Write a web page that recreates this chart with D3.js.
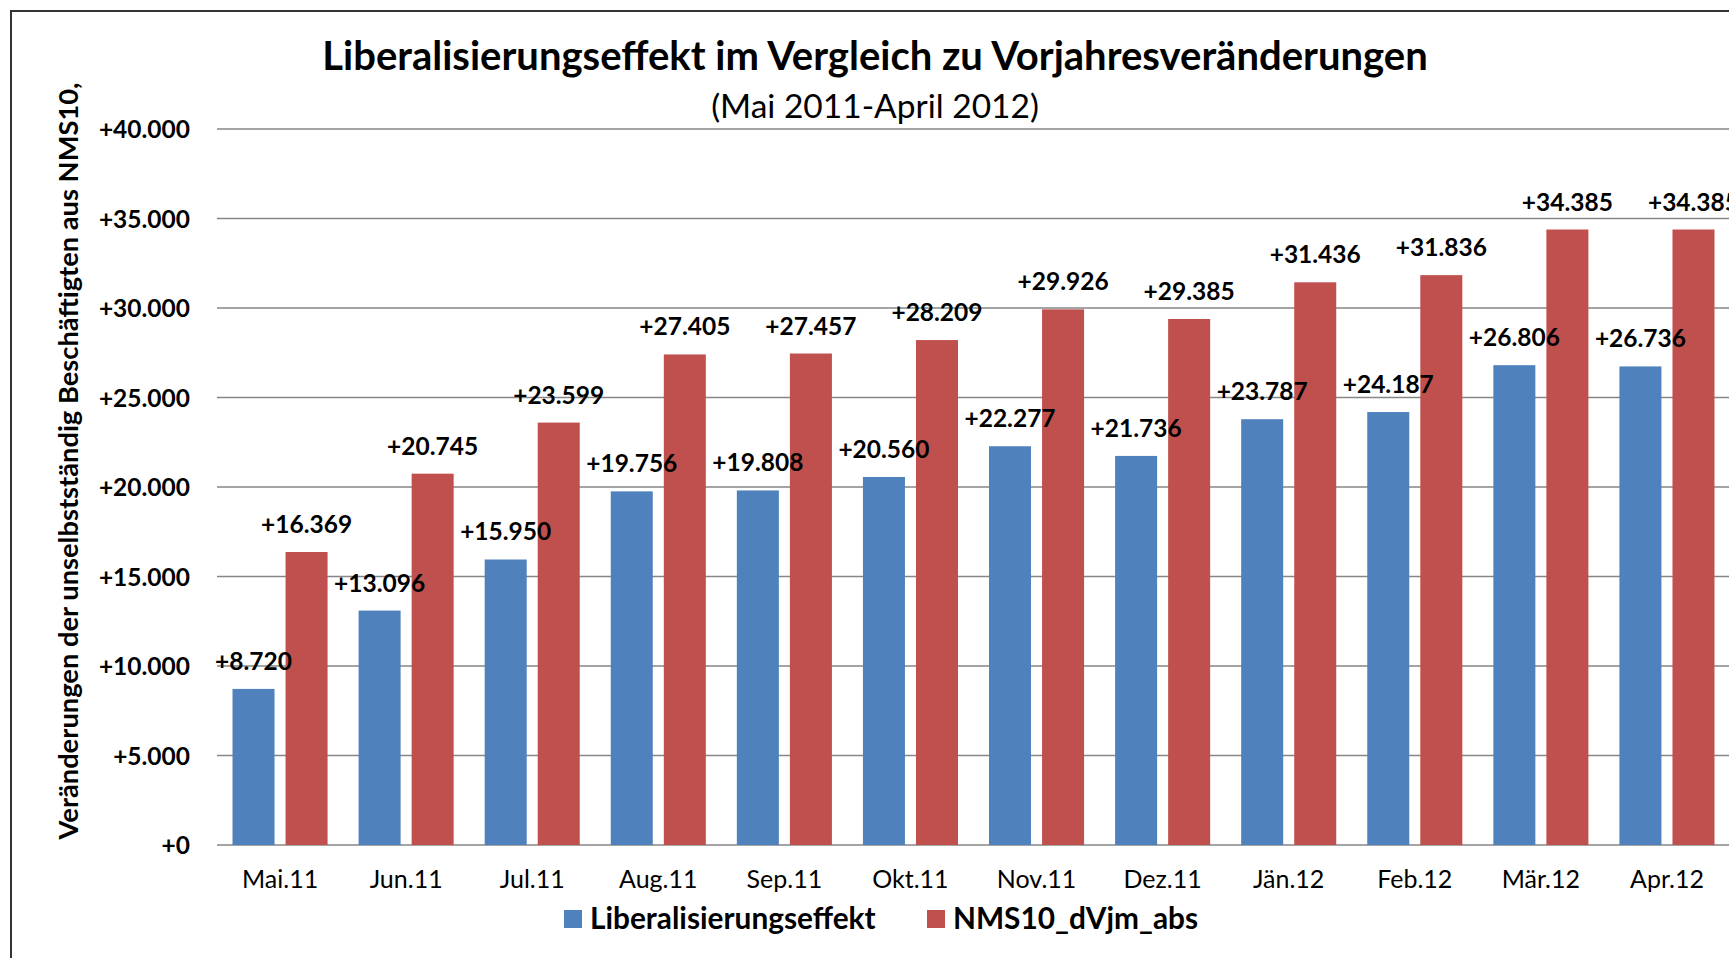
<!DOCTYPE html>
<html><head><meta charset="utf-8">
<script src="https://cdn.jsdelivr.net/npm/d3@7"></script>
<style>body{margin:0;background:#fff;}svg{display:block;font-family:Lato,"Open Sans",sans-serif;}</style>
</head><body>
<svg id="chart" width="1729" height="958"></svg>
<script>
const categories = ["Mai.11","Jun.11","Jul.11","Aug.11","Sep.11","Okt.11","Nov.11","Dez.11","Jän.12","Feb.12","Mär.12","Apr.12"];
const seriesNames = ["Liberalisierungseffekt","NMS10_dVjm_abs"];
const liberalisierung = [8720,13096,15950,19756,19808,20560,22277,21736,23787,24187,26806,26736];
const nms10 = [16369,20745,23599,27405,27457,28209,29926,29385,31436,31836,34385,34385];
const yTicks = [0,5000,10000,15000,20000,25000,30000,35000,40000];
const colors = ["#4F81BD","#C0504D"];

(function(){
const svg = d3.select("#chart");
const fmt = v => "+" + d3.format(",")(v).replace(/,/g, ".");

// border
svg.append("rect").attr("x",11).attr("y",11).attr("width",1800).attr("height",1000)
  .attr("fill","none").attr("stroke","#333").attr("stroke-width",2);

const pLeft = 217, pRight = 1730, pTop = 129, pBottom = 845;
const x0 = d3.scaleBand().domain(categories).range([pLeft, pRight]).paddingInner(0.246).paddingOuter(0.123);
const x1 = d3.scaleBand().domain(seriesNames).range([0, x0.bandwidth()]).paddingInner(0.208);
const y = d3.scaleLinear().domain([0,40000]).range([pBottom, pTop]);

// gridlines
svg.append("g").selectAll("line").data(yTicks).join("line")
  .attr("x1",pLeft).attr("x2",1729).attr("y1",d=>y(d)).attr("y2",d=>y(d))
  .attr("stroke","#868686").attr("stroke-width",1.6);

// y axis labels
const yAxis = svg.append("g").attr("transform",`translate(${pLeft},0)`)
  .call(d3.axisLeft(y).tickValues(yTicks).tickFormat(fmt).tickSize(0).tickPadding(27));
yAxis.select(".domain").remove();
yAxis.selectAll("text").attr("font-family","Lato").attr("font-weight","bold").attr("font-size",24.5).attr("fill","#000").attr("dy","0.36em");

// x axis labels
const xAxis = svg.append("g").attr("transform",`translate(0,${pBottom})`)
  .call(d3.axisBottom(x0).tickSize(0).tickPadding(25));
xAxis.select(".domain").remove();
xAxis.selectAll("text").attr("font-family","Lato").attr("font-size",25).attr("fill","#000");

// bars
const data = categories.map((c,i)=>({c, vals:[liberalisierung[i], nms10[i]]}));
const groups = svg.append("g").selectAll("g").data(data).join("g")
  .attr("transform",d=>`translate(${x0(d.c)},0)`);
groups.selectAll("rect").data(d=>d.vals.map((v,j)=>({v, s:seriesNames[j], j}))).join("rect")
  .attr("x",d=>x1(d.s)).attr("width",x1.bandwidth())
  .attr("y",d=>y(d.v)).attr("height",d=>y(0)-y(d.v)).attr("fill",d=>colors[d.j]);
groups.selectAll("text").data(d=>d.vals.map((v,j)=>({v, s:seriesNames[j], j}))).join("text")
  .attr("x",d=>x1(d.s)+x1.bandwidth()/2).attr("y",d=>y(d.v)-19)
  .attr("text-anchor","middle").attr("font-weight","bold").attr("font-size",24.5).attr("fill","#000")
  .text(d=>fmt(d.v));

// title
svg.append("text").attr("x",875).attr("y",70).attr("text-anchor","middle")
  .attr("font-weight","bold").attr("font-size",40).text("Liberalisierungseffekt im Vergleich zu Vorjahresveränderungen");
svg.append("text").attr("x",875).attr("y",118).attr("text-anchor","middle")
  .attr("font-size",33.5).text("(Mai 2011-April 2012)");

// y axis title
svg.append("text").attr("transform","translate(78,461) rotate(-90)").attr("text-anchor","middle")
  .attr("font-weight","bold").attr("font-size",27.3).text("Veränderungen der unselbstständig Beschäftigten aus NMS10,");

// legend
const legend = svg.append("g");
const legX = [564, 927];
seriesNames.forEach((s,i)=>{
  legend.append("rect").attr("x",legX[i]).attr("y",910).attr("width",18).attr("height",18).attr("fill",colors[i]);
  legend.append("text").attr("x",legX[i]+26).attr("y",929).attr("font-weight","bold").attr("font-size",29.8).text(s);
});
})();
</script>
</body></html>
